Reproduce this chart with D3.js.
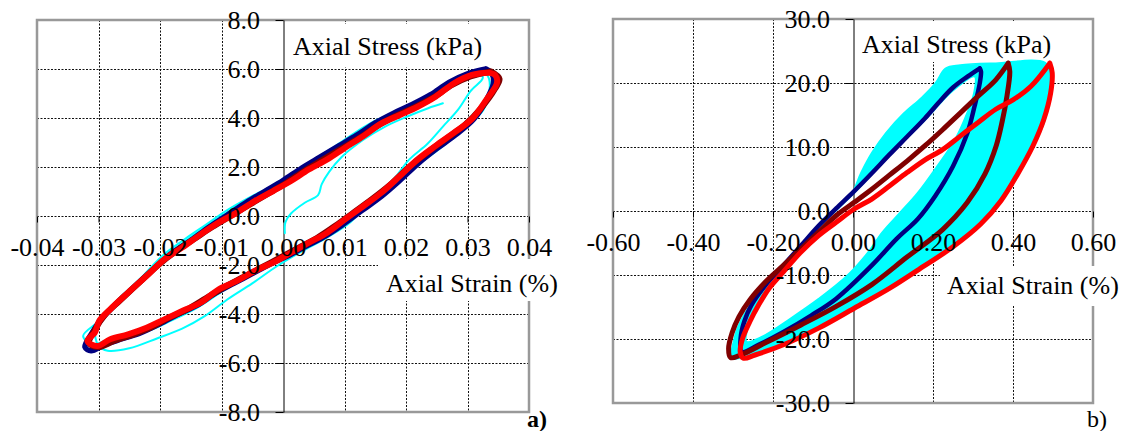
<!DOCTYPE html>
<html>
<head>
<meta charset="utf-8">
<script src="https://cdnjs.cloudflare.com/ajax/libs/d3/7.8.5/d3.min.js"></script>
<style>
  body { margin: 0; background: #fff; }
  svg text { font-family: "Liberation Serif", "Times New Roman", serif; }
</style>
</head>
<body>
<div id="chart"></div>
<script>
//tick values
var xTicksA = [-0.04, -0.03, -0.02, -0.01, 0, 0.01, 0.02, 0.03, 0.04];
var yTicksA = [-8, -6, -4, -2, 0, 2, 4, 6, 8];
var xTicksB = [-0.6, -0.4, -0.2, 0, 0.2, 0.4, 0.6];
var yTicksB = [-30, -20, -10, 0, 10, 20, 30];

var stressTitle = "Axial Stress (kPa)";
var strainTitle = "Axial Strain (%)";

// panel a) loops [strain %, stress kPa]
var cyanA1 = [[0.0325,6.0],[0.029,5.7],[0.026,5.3],[0.0225,4.75],[0.019,4.3],[0.0155,3.95],[0.012,3.45],[0.0085,2.85],[0.005,2.3],[0.0015,1.75],[-0.002,1.2],[-0.0055,0.75],[-0.009,0.25],[-0.0125,-0.35],[-0.016,-0.95],[-0.0195,-1.6],[-0.023,-2.5],[-0.026,-3.25],[-0.028,-3.75],[-0.030,-4.3],[-0.0325,-4.9],[-0.031,-5.25],[-0.029,-5.1],[-0.026,-4.95],[-0.022,-4.7],[-0.018,-4.25],[-0.014,-3.75],[-0.010,-3.1],[-0.006,-2.5],[-0.002,-1.95],[0.002,-1.35],[0.006,-0.85],[0.010,-0.25],[0.014,0.45],[0.018,1.25],[0.022,2.1],[0.026,2.85],[0.030,3.7],[0.0325,4.3],[0.0335,5.0],[0.0335,5.6],[0.0325,6.0]];
var cyanA2 = [[0.0318,5.9],[0.028,5.55],[0.024,4.95],[0.020,4.4],[0.016,3.9],[0.012,3.3],[0.008,2.6],[0.004,2.0],[0.0,1.45],[-0.004,0.85],[-0.008,0.3],[-0.012,-0.35],[-0.016,-1.05],[-0.020,-1.85],[-0.024,-2.75],[-0.027,-3.45],[-0.029,-4.1],[-0.0305,-4.7],[-0.030,-5.3],[-0.0285,-5.5],[-0.025,-5.4],[-0.0205,-5.0],[-0.0164,-4.6],[-0.0128,-4.1],[-0.009,-3.4],[-0.005,-2.75],[-0.001,-2.05],[0.003,-1.45],[0.007,-0.9],[0.011,-0.25],[0.0135,0.5],[0.0165,1.1],[0.0185,1.65],[0.0205,2.3],[0.0235,2.95],[0.026,3.65],[0.0285,4.35],[0.0305,5.1],[0.0325,5.65],[0.0318,5.9]];
var cyanA3 = [[0.0003,-0.7],[0.0004,-0.25],[0.0013,0.1],[0.0036,0.55],[0.0057,0.85],[0.0063,1.3],[0.0075,1.8],[0.0095,2.4],[0.013,3.1],[0.0166,3.65],[0.0201,4.05],[0.0236,4.4],[0.026,4.6]];
var navyA = [[0.0330,6.0],[0.0300,5.8],[0.0270,5.45],[0.0240,4.95],[0.0210,4.55],[0.0180,4.2],[0.0150,3.8],[0.0120,3.3],[0.0090,2.85],[0.0060,2.4],[0.0030,1.95],[0.0,1.45],[-0.0030,1.0],[-0.0060,0.55],[-0.0090,0.05],[-0.0120,-0.45],[-0.0150,-1.0],[-0.0180,-1.5],[-0.0210,-2.15],[-0.0240,-2.85],[-0.0270,-3.55],[-0.0295,-4.2],[-0.0310,-4.75],[-0.0322,-5.35],[-0.0312,-5.5],[-0.0290,-5.25],[-0.0260,-5.0],[-0.0230,-4.75],[-0.0200,-4.4],[-0.0170,-4.0],[-0.0140,-3.65],[-0.0110,-3.15],[-0.0080,-2.75],[-0.0050,-2.35],[-0.0020,-1.95],[0.0010,-1.6],[0.0040,-1.2],[0.0070,-0.8],[0.0100,-0.3],[0.0130,0.25],[0.0160,0.8],[0.0190,1.45],[0.0220,2.15],[0.0250,2.75],[0.0280,3.3],[0.0310,3.95],[0.0330,4.7],[0.0342,5.4],[0.0340,5.8],[0.0330,6.0]];
var darkRedA = [[0.0338,5.9],[0.0305,5.7],[0.0275,5.35],[0.0245,4.85],[0.0215,4.45],[0.0185,4.1],[0.0155,3.7],[0.0125,3.2],[0.0095,2.75],[0.0065,2.3],[0.0035,1.85],[0.0005,1.35],[-0.0025,0.9],[-0.0055,0.45],[-0.0085,0.0],[-0.0115,-0.45],[-0.0145,-0.95],[-0.0175,-1.45],[-0.0205,-2.05],[-0.0235,-2.75],[-0.0265,-3.45],[-0.0290,-4.05],[-0.0305,-4.6],[-0.0315,-5.2],[-0.0300,-5.35],[-0.0275,-5.1],[-0.0245,-4.85],[-0.0215,-4.55],[-0.0185,-4.15],[-0.0155,-3.8],[-0.0125,-3.35],[-0.0095,-2.9],[-0.0065,-2.5],[-0.0035,-2.1],[-0.0005,-1.7],[0.0025,-1.3],[0.0055,-0.9],[0.0085,-0.4],[0.0115,0.15],[0.0145,0.7],[0.0175,1.3],[0.0205,2.0],[0.0235,2.6],[0.0265,3.15],[0.0295,3.7],[0.0322,4.4],[0.0345,5.2],[0.0352,5.6],[0.0338,5.9]];
var redA = [[0.0335,5.85],[0.0307,5.76],[0.0278,5.42],[0.0248,4.87],[0.0219,4.46],[0.019,4.12],[0.016,3.78],[0.0131,3.27],[0.0101,2.79],[0.0072,2.31],[0.0042,1.9],[0.0013,1.43],[-0.0016,1.02],[-0.0046,0.61],[-0.0075,0.14],[-0.0105,-0.27],[-0.0134,-0.75],[-0.0164,-1.29],[-0.0193,-1.77],[-0.0222,-2.45],[-0.0252,-3.13],[-0.0281,-3.81],[-0.0299,-4.29],[-0.0306,-4.76],[-0.0318,-5.1],[-0.0302,-5.31],[-0.0281,-5.03],[-0.0252,-4.83],[-0.0222,-4.56],[-0.0193,-4.22],[-0.0164,-3.88],[-0.0134,-3.54],[-0.0105,-3.0],[-0.0075,-2.65],[-0.0046,-2.24],[-0.0016,-1.9],[0.0013,-1.5],[0.0042,-1.09],[0.0072,-0.68],[0.0101,-0.14],[0.0131,0.41],[0.016,0.95],[0.019,1.63],[0.0219,2.31],[0.0248,2.86],[0.0278,3.4],[0.0307,3.95],[0.0331,4.76],[0.0348,5.44],[0.0345,5.75],[0.0335,5.85]];

// panel b) cyan cycles read as a band (outer outline + inner white hole)
var cyanBandB = [[0.231,22.3],[0.268,22.8],[0.357,23.1],[0.48,23.2],[0.499,21.0],[0.495,17.9],[0.478,13.8],[0.452,10.2],[0.415,6.0],[0.37,1.4],[0.32,-2.1],[0.25,-5.7],[0.18,-8.6],[0.091,-12.2],[0.003,-15.3],[-0.086,-18.4],[-0.174,-21.0],[-0.263,-22.8],[-0.307,-23.0],[-0.303,-21.5],[-0.289,-18.3],[-0.263,-15.2],[-0.219,-11.6],[-0.174,-8.5],[-0.13,-5.4],[-0.086,-2.5],[-0.042,0.3],[-0.006,2.4],[0.02,6.0],[0.047,9.1],[0.082,12.2],[0.127,15.3],[0.171,17.7],[0.206,20.0]];
var cyanHoleB = [[0.304,21.0],[0.25,18.8],[0.18,14.2],[0.091,8.6],[0.003,2.8],[-0.086,-2.6],[-0.157,-7.8],[-0.21,-12.0],[-0.245,-15.2],[-0.263,-18.3],[-0.266,-20.4],[-0.227,-19.6],[-0.157,-16.8],[-0.086,-13.7],[-0.015,-10.1],[0.038,-6.4],[0.073,-3.3],[0.118,-0.2],[0.162,2.9],[0.21,7.0],[0.255,11.2],[0.285,15.3],[0.302,18.4]];
var navyB = [[0.317,22.3],[0.286,21.0],[0.25,19.3],[0.215,17.0],[0.18,14.5],[0.135,11.6],[0.091,8.8],[0.047,5.9],[0.003,3.1],[-0.042,0.4],[-0.086,-2.3],[-0.13,-5.4],[-0.174,-8.5],[-0.219,-11.6],[-0.254,-14.7],[-0.272,-17.3],[-0.281,-19.9],[-0.278,-22.0],[-0.236,-20.9],[-0.174,-18.9],[-0.104,-16.3],[-0.042,-13.7],[0.047,-8.5],[0.109,-4.35],[0.162,-1.24],[0.206,2.4],[0.25,7.0],[0.286,12.2],[0.304,16.4],[0.317,20.0],[0.32,21.8],[0.317,22.3]];
var darkRedB = [[0.388,23.1],[0.357,20.5],[0.312,17.9],[0.268,15.3],[0.224,12.7],[0.18,10.2],[0.135,7.8],[0.091,5.6],[0.047,3.4],[0.003,1.35],[-0.042,-0.7],[-0.086,-3.3],[-0.13,-5.9],[-0.174,-8.5],[-0.219,-11.1],[-0.258,-13.9],[-0.285,-16.5],[-0.302,-19.0],[-0.311,-21.5],[-0.306,-22.9],[-0.281,-22.5],[-0.219,-20.6],[-0.13,-17.8],[-0.042,-14.9],[0.047,-11.5],[0.135,-7.2],[0.224,-2.9],[0.286,1.35],[0.33,5.8],[0.358,10.2],[0.373,14.0],[0.385,18.0],[0.392,21.8],[0.388,23.1]];
var redB = [[0.492,23.1],[0.445,19.5],[0.401,17.4],[0.357,15.9],[0.312,13.8],[0.268,11.7],[0.224,9.6],[0.18,8.0],[0.135,6.0],[0.091,3.9],[0.047,1.87],[0.003,0.31],[-0.042,-1.76],[-0.086,-3.83],[-0.13,-6.4],[-0.174,-9.5],[-0.21,-12.1],[-0.236,-14.7],[-0.258,-17.3],[-0.276,-19.9],[-0.282,-22.0],[-0.274,-23.0],[-0.245,-22.5],[-0.174,-20.9],[-0.086,-18.3],[0.003,-15.2],[0.091,-12.1],[0.18,-8.5],[0.25,-5.6],[0.32,-2.0],[0.37,1.6],[0.41,5.6],[0.45,10.2],[0.477,14.3],[0.494,18.4],[0.498,21.6],[0.492,23.1]];

var locale = d3.formatLocale({ decimal: ".", thousands: ",", grouping: [3], currency: ["", ""], minus: "-" });

var width = 1127, height = 431;
var svg = d3.select("#chart").append("svg")
    .attr("width", width)
    .attr("height", height);

drawPanel(svg, {
    left: 37, right: 529, top: 20, bottom: 412,
    xDomain: [-0.04, 0.04], yDomain: [-8, 8],
    xTicks: xTicksA, yTicks: yTicksA,
    xFmt: locale.format(".2f"), yFmt: locale.format(".1f"),
    stress: { x: 293, y: 55, box: [288, 24, 202, 43] },
    strain: { x: 386, y: 292, box: [378, 259, 190, 42] },
    tag: { text: "a)", x: 527, y: 427, bold: true },
    lines: [
        { data: cyanA1, color: "#00ffff", w: 2 },
        { data: cyanA2, color: "#00ffff", w: 2 },
        { data: cyanA3, color: "#00ffff", w: 2 },
        { data: navyA, color: "#000080", w: 5.5 },
        { data: darkRedA, color: "#800000", w: 6 },
        { data: redA, color: "#ff0000", w: 6 }
    ]
});

drawPanel(svg, {
    left: 613, right: 1093, top: 19, bottom: 403,
    xDomain: [-0.6, 0.6], yDomain: [-30, 30],
    xTicks: xTicksB, yTicks: yTicksB,
    xFmt: locale.format(".2f"), yFmt: locale.format(".1f"),
    stress: { x: 862, y: 53, box: [857, 21, 202, 41] },
    strain: { x: 947, y: 294, box: [940, 266, 187, 40] },
    tag: { text: "b)", x: 1087, y: 427, bold: false },
    band: { outer: cyanBandB, hole: cyanHoleB, color: "#00ffff" },
    lines: [
        { data: navyB, color: "#000080", w: 4.5 },
        { data: darkRedB, color: "#800000", w: 5 },
        { data: redB, color: "#ff0000", w: 5 }
    ]
});

function drawPanel(svg, p) {
    var x = d3.scaleLinear().domain(p.xDomain).range([p.left, p.right]);
    var y = d3.scaleLinear().domain(p.yDomain).range([p.bottom, p.top]);
    var g = svg.append("g");

    // dotted grid
    var grid = g.append("g")
        .attr("stroke", "#111")
        .attr("stroke-width", 1)
        .attr("stroke-dasharray", "2,1.5");
    grid.selectAll(".vg")
        .data(p.xTicks.filter(function (d) { return d !== 0 && d !== p.xDomain[0] && d !== p.xDomain[1]; }))
        .join("line")
        .attr("class", "vg")
        .attr("x1", function (d) { return Math.round(x(d)) + 0.5; })
        .attr("x2", function (d) { return Math.round(x(d)) + 0.5; })
        .attr("y1", p.top).attr("y2", p.bottom);
    grid.selectAll(".hg")
        .data(p.yTicks.filter(function (d) { return d !== p.yDomain[0] && d !== p.yDomain[1]; }))
        .join("line")
        .attr("class", "hg")
        .attr("y1", function (d) { return Math.round(y(d)) + 0.5; })
        .attr("y2", function (d) { return Math.round(y(d)) + 0.5; })
        .attr("x1", p.left).attr("x2", p.right);

    // plot frame
    g.append("rect")
        .attr("x", p.left).attr("y", p.top)
        .attr("width", p.right - p.left).attr("height", p.bottom - p.top)
        .attr("fill", "none")
        .attr("stroke", "#999")
        .attr("stroke-width", 2.5);

    // y axis line at zero strain
    g.append("g")
        .attr("transform", "translate(" + (Math.round(x(0)) + 0.5) + ",0)")
        .call(d3.axisLeft(y).tickValues(p.yTicks).tickSize(8).tickSizeOuter(0).tickFormat(""))
        .attr("color", "#000");

    // x axis small ticks at zero stress
    g.append("g")
        .attr("transform", "translate(0," + (Math.round(y(0)) + 0.5) + ")")
        .call(d3.axisBottom(x).tickValues(p.xTicks).tickSize(6).tickFormat(""))
        .call(function (a) { a.select(".domain").remove(); })
        .attr("color", "#000");

    // axis titles on white boxes
    [[p.stress, stressTitle], [p.strain, strainTitle]].forEach(function (t) {
        g.append("rect")
            .attr("x", t[0].box[0]).attr("y", t[0].box[1])
            .attr("width", t[0].box[2]).attr("height", t[0].box[3])
            .attr("fill", "#fff");
        g.append("text")
            .attr("x", t[0].x).attr("y", t[0].y)
            .attr("font-size", 26)
            .attr("fill", "#000")
            .text(t[1]);
    });

    // cyan band
    if (p.band) {
        var ring = d3.line()
            .x(function (d) { return x(d[0]); })
            .y(function (d) { return y(d[1]); })
            .curve(d3.curveCatmullRomClosed);
        g.append("path")
            .attr("d", ring(p.band.outer) + ring(p.band.hole))
            .attr("fill", p.band.color)
            .attr("fill-rule", "evenodd")
            .attr("stroke", p.band.color)
            .attr("stroke-width", 1.5);
    }

    // loops
    var draw_line = d3.line()
        .x(function (d) { return x(d[0]); })
        .y(function (d) { return y(d[1]); })
        .curve(d3.curveCatmullRom);

    g.append("g").selectAll("path")
        .data(p.lines)
        .join("path")
        .attr("d", function (d) { return draw_line(d.data); })
        .attr("fill", "none")
        .attr("stroke", function (d) { return d.color; })
        .attr("stroke-width", function (d) { return d.w; })
        .attr("stroke-linejoin", "round")
        .attr("stroke-linecap", "round");

    // tick labels on top
    g.append("g")
        .attr("transform", "translate(" + x(0) + ",0)")
        .call(d3.axisLeft(y).tickValues(p.yTicks).tickSize(8).tickPadding(15).tickFormat(p.yFmt))
        .call(function (a) { a.select(".domain").remove(); a.selectAll("line").remove(); })
        .attr("font-size", 26)
        .attr("font-family", "Liberation Serif")
        .attr("color", "#000");

    g.append("g")
        .attr("transform", "translate(0," + y(0) + ")")
        .call(d3.axisBottom(x).tickValues(p.xTicks).tickSize(6).tickPadding(15.5).tickFormat(p.xFmt))
        .call(function (a) { a.select(".domain").remove(); a.selectAll("line").remove(); })
        .attr("font-size", 26)
        .attr("font-family", "Liberation Serif")
        .attr("color", "#000");

    g.append("text")
        .attr("x", p.tag.x).attr("y", p.tag.y)
        .attr("font-size", 24)
        .attr("font-weight", p.tag.bold ? "bold" : "normal")
        .attr("fill", "#000")
        .text(p.tag.text);
}
</script>
</body>
</html>
